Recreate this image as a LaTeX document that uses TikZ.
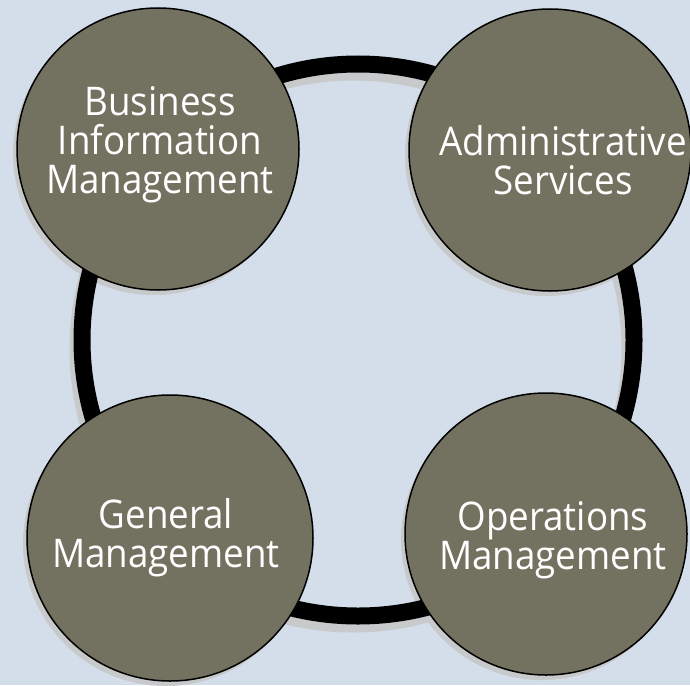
\documentclass[tikz,border=0pt]{standalone}
\usepackage{fontspec}
\setmainfont{Open Sans}[FakeStretch=0.93]
\definecolor{bgblue}{RGB}{211,222,234}
\definecolor{olive}{RGB}{115,114,96}
\definecolor{shadowgray}{RGB}{200,201,203}
\begin{document}
\begin{tikzpicture}[x=1pt,y=-1pt,
  bubble/.style={circle,draw=black,line width=1.5pt,fill=olive,inner sep=0pt,minimum size=#1},
  bubbleshadow/.style={circle,fill=shadowgray,inner sep=0pt,minimum size=#1},
  label/.style={text=white,align=center,inner sep=0pt,font=\fontsize{39.5}{39}\selectfont}]
\fill[bgblue] (0,0) rectangle (690,685);
\path[use as bounding box] (0,0) rectangle (690,685);
% shadows
\draw[shadowgray,line width=15pt] (353,349) circle[radius=276];
\node[bubbleshadow=282pt] at (154,154) {};
\node[bubbleshadow=282pt] at (546,155) {};
\node[bubbleshadow=286pt] at (166,543) {};
\node[bubbleshadow=282pt] at (542,539) {};
% ring
\draw[black,line width=17pt] (358,340) circle[radius=276];
% bubbles
\node[bubble=282pt] (bim) at (158,149) {};
\node[bubble=282pt] (adm) at (550,150) {};
\node[bubble=286pt] (gen) at (170,538) {};
\node[bubble=282pt] (ops) at (546,534) {};
% labels
\node[label] (tbim) at (160,145) {Business\\Information\\Management};
\node[label] (tadm) at (563,160) {Administrative\\Services};
\node[label] (tgen) at (166,538) {General\\Management};
\node[label] (tops) at (553,540) {Operations\\Management};
\end{tikzpicture}
\end{document}
